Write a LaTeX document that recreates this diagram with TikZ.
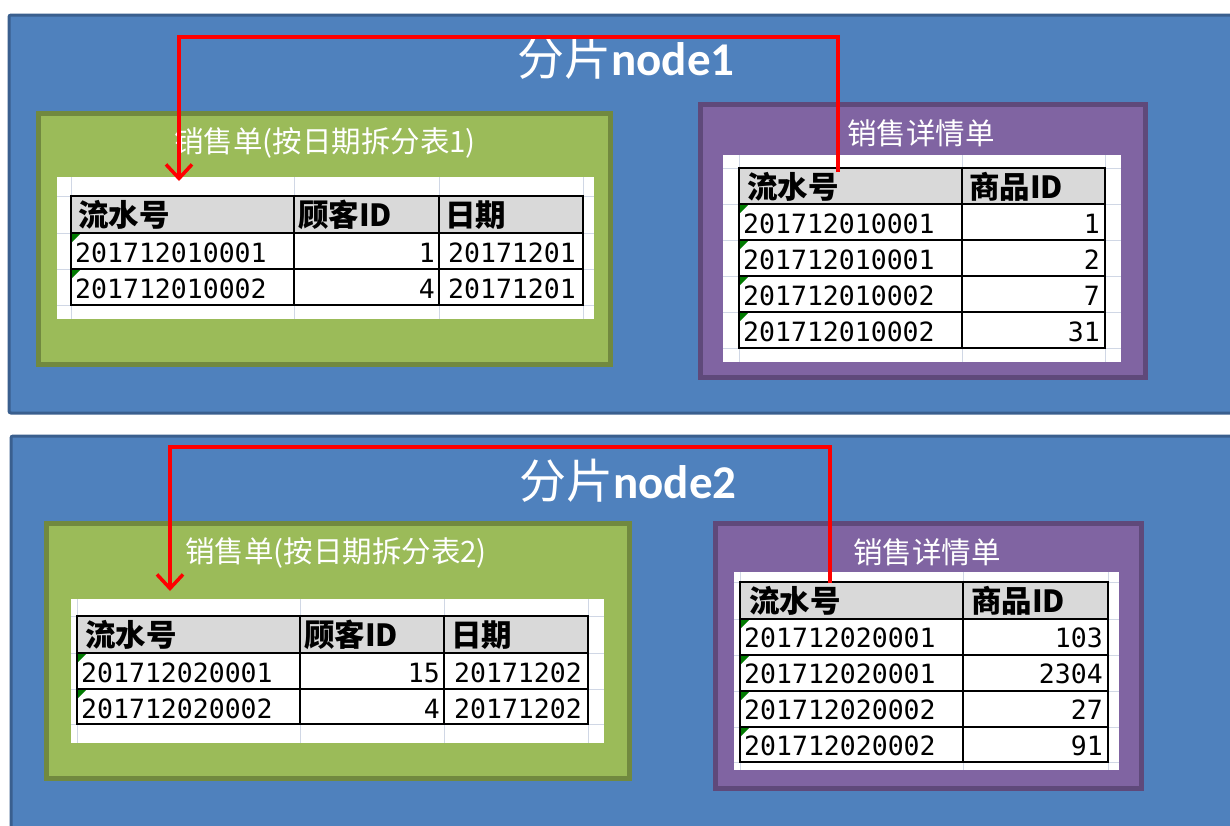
\documentclass[tikz,border=0pt]{standalone}
\usepackage{fontspec}
\setmainfont{Carlito}
\newfontfamily\cjk{Noto Sans CJK SC}
\newfontfamily\mono{DejaVu Sans Mono}
\usetikzlibrary{arrows.meta}
\definecolor{shardblue}{HTML}{4F81BD}
\definecolor{sharddark}{HTML}{3A5F8E}
\definecolor{ordgreen}{HTML}{9BBB59}
\definecolor{ordedge}{HTML}{71893F}
\definecolor{dtlpurple}{HTML}{8064A2}
\definecolor{dtledge}{HTML}{5F497A}
\definecolor{gridgray}{HTML}{D0D7E5}
\definecolor{headgray}{HTML}{D9D9D9}
\definecolor{flaggreen}{HTML}{007A00}
\tikzset{
  shard/.style={fill=shardblue,draw=sharddark,line width=3pt,rounded corners=2pt},
  ordbox/.style={fill=ordgreen,draw=ordedge,line width=5pt},
  dtlbox/.style={fill=dtlpurple,draw=dtledge,line width=5pt},
  cellgrid/.style={draw=gridgray,line width=0.8pt},
  rule/.style={draw=black,line width=1.4pt},
  hdrtxt/.style={font=\cjk\bfseries\fontsize{30.5}{32}\selectfont,anchor=west,inner sep=0pt},
  celltxt/.style={font=\mono\fontsize{26.5}{28}\selectfont,inner sep=0pt},
  boxtitle/.style={font=\cjk\fontsize{29.5}{32}\selectfont,text=white,inner sep=0pt},
  shardtitle/.style={font=\fontsize{47}{50}\selectfont,text=white,inner sep=0pt},
  link/.style={draw=red,line width=3.5pt,-{Straight Barb[length=14pt,width=26pt]}}
}

\begin{document}
\begin{tikzpicture}[x=1pt,y=-1pt]
  \useasboundingbox (0,0) rectangle (1230,825);
  \fill[white] (0,0) rectangle (1230,825);
  % node1
  \draw[shard] (9,15) rectangle (1245,413);
  \node[shardtitle] (n1title) at (626,58) {{\cjk 分片}\textbf{node1}};

  \draw[ordbox] (38,113) rectangle (610,364);
  \node[boxtitle] (o1title) at (325,143) {销售单(按日期拆分表1)};
  \fill[white] (57,177) rectangle (594,319);
  \foreach \gx in {71,294,439,583}
    \draw[cellgrid] (\gx,177) -- (\gx,319);
  \foreach \gy in {196,233,269,305}
    \draw[cellgrid] (57,\gy) -- (594,\gy);
  \fill[headgray] (71,196) rectangle (583,233);
  \draw[rule] (71,196) rectangle (583,305);
  \foreach \gy in {233,269}
    \draw[rule] (71,\gy) -- (583,\gy);
  \foreach \gx in {294,439}
    \draw[rule] (\gx,196) -- (\gx,305);
  \node[hdrtxt] (o1h1) at (78,215) {流水号};
  \node[hdrtxt] (o1h2) at (298,215) {顾客ID};
  \node[hdrtxt] (o1h3) at (445,215) {日期};
  \foreach \r/\sn/\cust/\day in {0/201712010001/1/20171201,1/201712010002/4/20171201}
  {
    \fill[flaggreen] (72,234+\r*36) -- ++(8,0) -- ++(-8,8) -- cycle;
    \node[celltxt,anchor=west] (o1sn\r) at (75,253+\r*36) {\sn};
    \node[celltxt,anchor=east] (o1cu\r) at (435,253+\r*36) {\cust};
    \node[celltxt,anchor=east] (o1dy\r) at (576,253+\r*36) {\day};
  }

  \draw[dtlbox] (700,104) rectangle (1145,377);
  \node[boxtitle] (d1title) at (921,133) {销售详情单};
  \fill[white] (723,155) rectangle (1121,362);
  \foreach \gx in {739,962,1105}
    \draw[cellgrid] (\gx,155) -- (\gx,362);
  \foreach \gy in {168,204,240,276,312,348}
    \draw[cellgrid] (723,\gy) -- (1121,\gy);
  \fill[headgray] (739,168) rectangle (1105,204);
  \draw[rule] (739,168) rectangle (1105,348);
  \foreach \gy in {204,240,276,312}
    \draw[rule] (739,\gy) -- (1105,\gy);
  \draw[rule] (962,168) -- (962,348);
  \node[hdrtxt] (d1h1) at (747,187) {流水号};
  \node[hdrtxt] (d1h2) at (969,187) {商品ID};
  \foreach \r/\sn/\item in {0/201712010001/1,1/201712010001/2,2/201712010002/7,3/201712010002/31}
  {
    \fill[flaggreen] (740,205+\r*36) -- ++(8,0) -- ++(-8,8) -- cycle;
    \node[celltxt,anchor=west] (d1sn\r) at (743,224+\r*36) {\sn};
    \node[celltxt,anchor=east] (d1it\r) at (1100,224+\r*36) {\item};
  }

  \coordinate (n1src) at (838,172);
  \coordinate (n1dst) at (179,181);
  \draw[link] (n1src) -- ++(0,-135) -| (n1dst);

  % node2
  \draw[shard] (11,436) rectangle (1245,840);
  \node[shardtitle] (n2title) at (628,481) {{\cjk 分片}\textbf{node2}};

  \draw[ordbox] (46,523) rectangle (629,778);
  \node[boxtitle] (o2title) at (336,553) {销售单(按日期拆分表2)};
  \fill[white] (71,599) rectangle (604,743);
  \foreach \gx in {77,300,444,588}
    \draw[cellgrid] (\gx,599) -- (\gx,743);
  \foreach \gy in {616,653,689,724}
    \draw[cellgrid] (71,\gy) -- (604,\gy);
  \fill[headgray] (77,616) rectangle (588,653);
  \draw[rule] (77,616) rectangle (588,724);
  \foreach \gy in {653,689}
    \draw[rule] (77,\gy) -- (588,\gy);
  \foreach \gx in {300,444}
    \draw[rule] (\gx,616) -- (\gx,724);
  \node[hdrtxt] (o2h1) at (85,635) {流水号};
  \node[hdrtxt] (o2h2) at (304,635) {顾客ID};
  \node[hdrtxt] (o2h3) at (451,635) {日期};
  \foreach \r/\sn/\cust/\day in {0/201712020001/15/20171202,1/201712020002/4/20171202}
  {
    \fill[flaggreen] (78,654+\r*36) -- ++(8,0) -- ++(-8,8) -- cycle;
    \node[celltxt,anchor=west] (o2sn\r) at (81,673+\r*36) {\sn};
    \node[celltxt,anchor=east] (o2cu\r) at (440,673+\r*36) {\cust};
    \node[celltxt,anchor=east] (o2dy\r) at (582,673+\r*36) {\day};
  }

  \draw[dtlbox] (715,523) rectangle (1141,788);
  \node[boxtitle] (d2title) at (927,552) {销售详情单};
  \fill[white] (734,572) rectangle (1119,770);
  \foreach \gx in {740,963,1108}
    \draw[cellgrid] (\gx,572) -- (\gx,770);
  \foreach \gy in {582,619,655,691,727,762}
    \draw[cellgrid] (734,\gy) -- (1119,\gy);
  \fill[headgray] (740,582) rectangle (1108,619);
  \draw[rule] (740,582) rectangle (1108,762);
  \foreach \gy in {619,655,691,727}
    \draw[rule] (740,\gy) -- (1108,\gy);
  \draw[rule] (963,582) -- (963,762);
  \node[hdrtxt] (d2h1) at (749,601) {流水号};
  \node[hdrtxt] (d2h2) at (971,601) {商品ID};
  \foreach \r/\sn/\item in {0/201712020001/103,1/201712020001/2304,2/201712020002/27,3/201712020002/91}
  {
    \fill[flaggreen] (741,620+\r*36) -- ++(8,0) -- ++(-8,8) -- cycle;
    \node[celltxt,anchor=west] (d2sn\r) at (744,638+\r*36) {\sn};
    \node[celltxt,anchor=east] (d2it\r) at (1103,638+\r*36) {\item};
  }

  \coordinate (n2src) at (830,583);
  \coordinate (n2dst) at (170,591);
  \draw[link] (n2src) -- ++(0,-136) -| (n2dst);
\end{tikzpicture}
\end{document}
